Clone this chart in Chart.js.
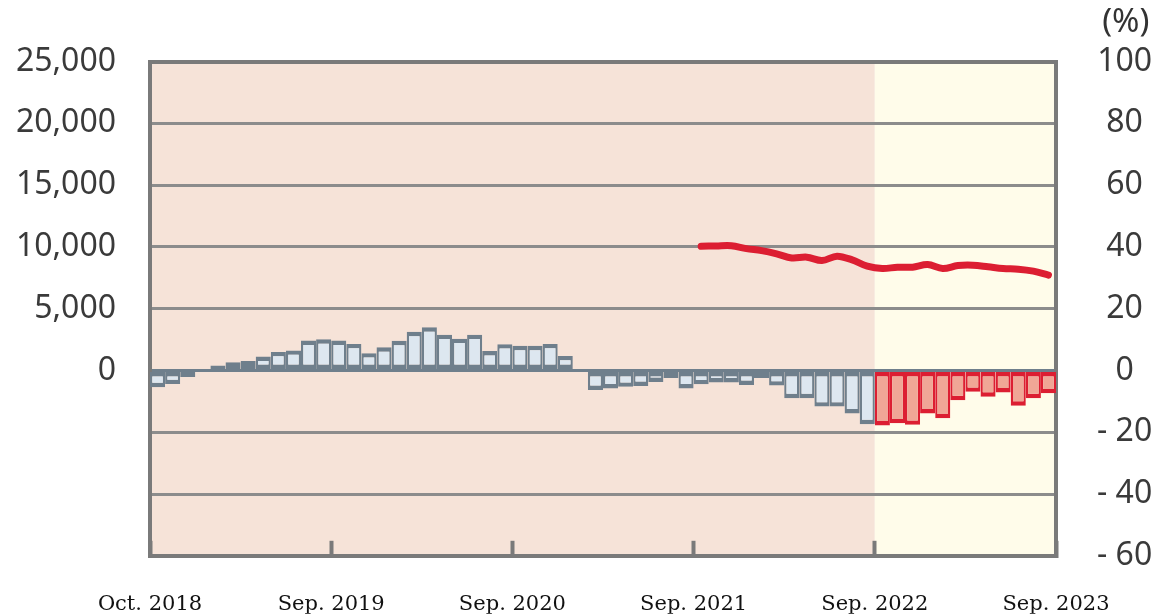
<!DOCTYPE html>
<html>
<head>
<meta charset="utf-8">
<script src="https://cdn.jsdelivr.net/npm/chart.js@4.4.1/dist/chart.umd.min.js"></script>
<style>
  html, body { margin: 0; padding: 0; background: #fff; }
  #wrap { width: 1158px; height: 616px; }
</style>
</head>
<body>
<div id="wrap"><canvas id="mainChart"></canvas></div>
<script>
// months Oct 2018 .. Sep 2023
const months = [];
for (let y = 2018, m = 10; months.length < 60; m++) {
    if (m > 12) { m = 1; y++; }
    months.push(y + '-' + String(m).padStart(2, '0'));
}

// year-on-year change (%), right axis
const yoyPast = [
    -5.4, -4.4, -2.1, -0.3, 1.6, 2.7, 3.1, 4.5, 6.0, 6.5, 9.7, 10.1,
    9.7, 8.6, 5.6, 7.5, 9.6, 12.5, 14.0, 11.6, 10.3, 11.6, 6.3, 8.5,
    8.0, 8.0, 8.6, 4.7, -0.5, -6.3, -5.8, -5.3, -5.0, -3.7, -2.4, -5.8,
    -4.5, -3.9, -3.9, -4.7, -2.4, -4.9, -9.0, -9.0, -11.7, -11.7, -13.9, -17.4
];
const yoyRecent = [-17.8, -17.1, -17.6, -13.9, -15.5, -9.6, -6.9, -8.5, -7.1, -11.4, -9.0, -7.4];
const recentStart = '2022-10';

// level series, left axis
const lineStart = '2021-10';
const lineValues = [
    10050, 10080, 10100, 9860, 9700, 9440, 9110, 9170, 8900, 9250, 8950, 8440,
    8250, 8360, 8360, 8570, 8250, 8490, 8520, 8390, 8250, 8200, 8040, 7720
];

// x-axis labels: first at start of month, the rest at end of month
const tickLabels = ['Oct. 2018', 'Sep. 2019', 'Sep. 2020', 'Sep. 2021', 'Sep. 2022', 'Sep. 2023'];
const tickMonths = ['2018-10', '2019-09', '2020-09', '2021-09', '2022-09', '2023-09'];

const leftTicks = [0, 5000, 10000, 15000, 20000, 25000];

const BLUE_FILL = '#DDE7F0', BLUE_EDGE = '#6F7F8C';
const RED_FILL = '#F0A696', RED_EDGE = '#DC1E32';
const AXIS = '#7A7A7A';

const recentIdx = months.indexOf(recentStart);
const yoyAll = yoyPast.concat(yoyRecent);
const barData = yoyAll.map((v, i) => ({ x: i, y: v }));
const lineIdx = months.indexOf(lineStart);
const lineData = lineValues.map((v, i) => ({ x: lineIdx + i, y: v }));

const tickPos = tickMonths.map((m, i) => months.indexOf(m) + (i === 0 ? -0.5 : 0.5));

const bgPlugin = {
    id: 'bgPanels',
    beforeDraw(chart) {
        const { ctx, chartArea: a, scales } = chart;
        const split = scales.x.getPixelForValue(recentIdx - 0.5);
        ctx.save();
        ctx.fillStyle = '#F6E3D8';
        ctx.fillRect(a.left, a.top, split - a.left, a.bottom - a.top);
        ctx.fillStyle = '#FFFCEA';
        ctx.fillRect(split, a.top, a.right - split, a.bottom - a.top);
        ctx.restore();
    }
};

const tickFont = { family: '"Noto Sans", sans-serif', size: 32 };

new Chart(document.getElementById('mainChart'), {
    type: 'bar',
    data: {
        datasets: [
            {
                type: 'line',
                label: 'level',
                data: lineData,
                yAxisID: 'yL',
                borderColor: RED_EDGE,
                borderWidth: 7,
                pointRadius: 0,
                tension: 0.35,
                borderCapStyle: 'round',
                borderJoinStyle: 'round',
                order: 0
            },
            {
                label: 'yoy',
                data: barData,
                yAxisID: 'yR',
                order: 1,
                barPercentage: 1,
                categoryPercentage: 1,
                inflateAmount: 0,
                borderSkipped: false,
                borderWidth: { top: 4.4, bottom: 4.4, left: 2.3, right: 2.3 },
                backgroundColor: c => c.dataIndex >= recentIdx ? RED_FILL : BLUE_FILL,
                borderColor: c => c.dataIndex >= recentIdx ? RED_EDGE : BLUE_EDGE
            }
        ]
    },
    options: {
        responsive: true,
        maintainAspectRatio: false,
        animation: false,
        layout: { padding: 0 },
        plugins: {
            legend: { display: false },
            tooltip: { enabled: false },
            title: {
                display: true,
                text: '(%) ',
                align: 'end',
                color: '#333',
                font: { family: '"Noto Sans", sans-serif', size: 33, weight: 'normal' },
                padding: { top: 3, bottom: 19 }
            }
        },
        scales: {
            x: {
                type: 'linear',
                position: 'bottom',
                min: -0.5,
                max: months.length - 0.5,
                offset: false,
                afterBuildTicks: s => { s.ticks = tickPos.map(v => ({ value: v })); },
                afterFit: s => {
                    s.height = 58;
                    s.paddingLeft = 0;
                    s.paddingRight = 0;
                },
                ticks: {
                    autoSkip: false,
                    maxRotation: 0,
                    padding: 51,
                    color: '#111',
                    font: { family: '"DejaVu Serif", serif', size: 21 },
                    callback: v => tickLabels[tickPos.indexOf(v)] || ''
                },
                grid: {
                    offset: false,
                    drawOnChartArea: false,
                    drawTicks: true,
                    tickLength: -15,
                    tickWidth: 4,
                    tickColor: AXIS
                },
                border: { display: true, width: 4, color: AXIS }
            },
            yL: {
                position: 'left',
                min: -15000,
                max: 25000,
                afterBuildTicks: s => { s.ticks = leftTicks.map(v => ({ value: v })); },
                afterFit: s => { s.width = 150; },
                ticks: {
                    padding: 34,
                    color: '#3A3A3A',
                    font: tickFont,
                    callback: v => v.toLocaleString('en-US')
                },
                grid: { drawOnChartArea: false, drawTicks: false },
                border: { display: true, width: 4, color: AXIS }
            },
            yR: {
                position: 'right',
                min: -60,
                max: 100,
                afterFit: s => { s.width = 102; },
                ticks: {
                    stepSize: 20,
                    padding: 41,
                    crossAlign: 'center',
                    color: '#3A3A3A',
                    font: tickFont,
                    callback: v => v < 0 ? '- ' + Math.abs(v) : String(v)
                },
                grid: {
                    drawTicks: false,
                    color: c => c.tick.value === 0 ? BLUE_EDGE : (c.tick.value === 100 ? AXIS : '#8C8C8C'),
                    lineWidth: c => c.tick.value === 100 ? 4 : 3
                },
                border: { display: true, width: 4, color: AXIS }
            }
        }
    },
    plugins: [bgPlugin]
});
</script>
</body>
</html>
